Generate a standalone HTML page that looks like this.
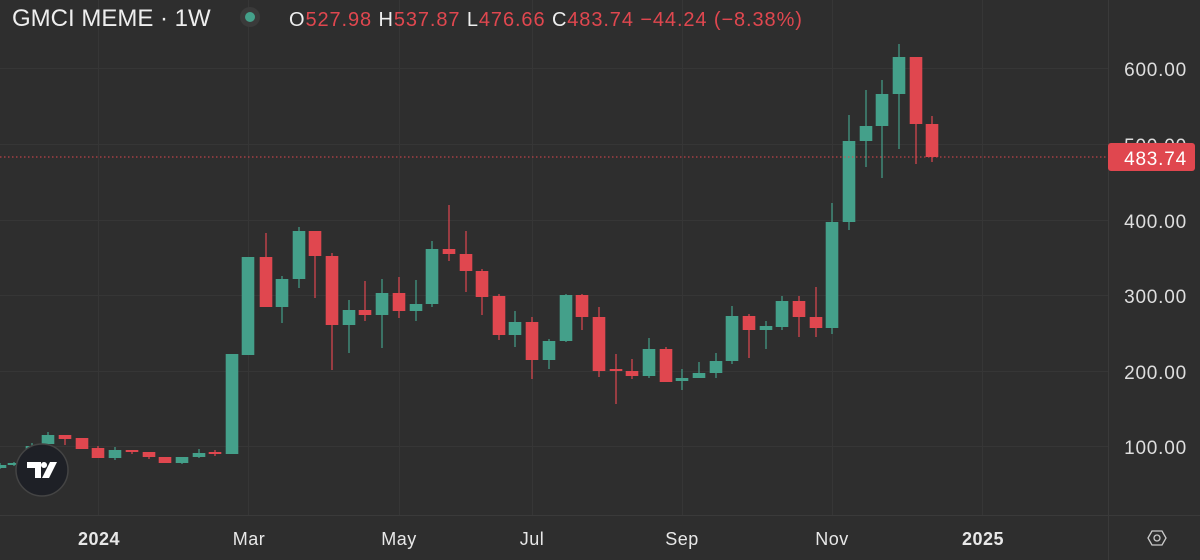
<!DOCTYPE html>
<html><head><meta charset="utf-8"><style>
html,body{margin:0;padding:0;background:#2e2e2e;}
svg{display:block;font-family:"Liberation Sans",sans-serif;}
</style></head><body>
<svg id="s" width="1200" height="560" viewBox="0 0 1200 560" xmlns="http://www.w3.org/2000/svg">
<rect width="1200" height="560" fill="#2e2e2e"/>
<g stroke="#363636" stroke-width="1">
<line x1="0" x2="1108" y1="68.5" y2="68.5"/><line x1="0" x2="1108" y1="144.5" y2="144.5"/>
<line x1="0" x2="1108" y1="220.5" y2="220.5"/><line x1="0" x2="1108" y1="295.5" y2="295.5"/>
<line x1="0" x2="1108" y1="371.5" y2="371.5"/><line x1="0" x2="1108" y1="446.5" y2="446.5"/>
<line x1="98.5" x2="98.5" y1="0" y2="515"/><line x1="248.5" x2="248.5" y1="0" y2="515"/>
<line x1="399.5" x2="399.5" y1="0" y2="515"/><line x1="532.5" x2="532.5" y1="0" y2="515"/>
<line x1="682.5" x2="682.5" y1="0" y2="515"/><line x1="832.5" x2="832.5" y1="0" y2="515"/>
<line x1="982.5" x2="982.5" y1="0" y2="515"/>
</g>
<line x1="0" x2="1200" y1="515.5" y2="515.5" stroke="#3a3a3a"/>
<line x1="1108.5" x2="1108.5" y1="0" y2="560" stroke="#3a3a3a"/>
<g id="c"></g>
<line x1="0" x2="1108" y1="157" y2="157" stroke="#e0474f" stroke-dasharray="1.5 2.5" stroke-width="1"/>
<g fill="#dedede" font-size="19" letter-spacing="0.8" text-anchor="end">
<text x="1187" y="76">600.00</text><text x="1187" y="152">500.00</text>
<text x="1187" y="228">400.00</text><text x="1187" y="303">300.00</text>
<text x="1187" y="379">200.00</text><text x="1187" y="454">100.00</text>
</g>
<rect x="1108" y="143" width="87" height="28" rx="3" fill="#e0474f"/>
<text x="1187" y="165" fill="#fff" font-size="19" letter-spacing="0.8" text-anchor="end">483.74</text>
<g fill="#e8e8e8" font-size="18" letter-spacing="0.5" text-anchor="middle">
<text x="99" y="545" font-weight="bold">2024</text><text x="249" y="545">Mar</text>
<text x="399" y="545">May</text><text x="532" y="545">Jul</text>
<text x="682" y="545">Sep</text><text x="832" y="545">Nov</text>
<text x="983" y="545" font-weight="bold">2025</text>
</g>
<polygon points="1148,538 1152,531 1162,531 1166,538 1162,545 1152,545" fill="none" stroke="#ccc" stroke-width="1.3"/>
<circle cx="1157" cy="538" r="3" fill="none" stroke="#ccc" stroke-width="1.3"/>
<text x="12" y="26" fill="#eee" font-size="24">GMCI MEME · 1W</text>
<circle cx="250" cy="17" r="10" fill="#3a3a3a"/><circle cx="250" cy="17" r="5" fill="#44a08a"/>
<text x="289" y="26" font-size="20" letter-spacing="0.9"><tspan fill="#eee">O</tspan><tspan fill="#e0474f">527.98 </tspan><tspan fill="#eee">H</tspan><tspan fill="#e0474f">537.87 </tspan><tspan fill="#eee">L</tspan><tspan fill="#e0474f">476.66 </tspan><tspan fill="#eee">C</tspan><tspan fill="#e0474f">483.74 </tspan><tspan fill="#e0474f">−44.24 (−8.38%)</tspan></text>
<circle cx="42" cy="470" r="26" fill="#1e2026" stroke="#444" stroke-width="1.5"/>
<path d="M27 462h14v16h-6v-10h-8z M44 462a3 3 0 1 0 0.01 0z M50 462h7l-8 16h-7z" fill="#fff"/>
</svg>
<script>
var G="#44a08a",R="#e0474f";
var d=[
[0,465,468,463,469,G],[14,463,465,462,466,G],[32,446,449,443,450,G],[48,435,444,432,445,G],[65,435,439,435,445,R],[82,438,449,438,449,R],
[98,448,458,446,458,R],[115,450,458,447,460,G],[132,450,452,450,454,R],[149,452,457,452,459,R],[165,457,463,457,463,R],[182,457,463,457,464,G],
[199,453,457,449,458,G],[215,452,454,450,456,R],[232,354,454,354,454,G],[248,257,355,257,355,G],[266,257,307,233,307,R],[282,279,307,276,323,G],
[299,231,279,227,288,G],[315,231,256,231,298,R],[332,256,325,253,370,R],[349,310,325,300,353,G],[365,310,315,281,321,R],[382,293,315,279,348,G],
[399,293,311,277,318,R],[416,304,311,280,321,G],[432,249,304,241,307,G],[449,249,254,205,261,R],[466,254,271,231,292,R],[482,271,297,269,315,R],
[499,296,335,294,340,R],[515,322,335,311,347,G],[532,322,360,317,379,R],[549,341,360,339,369,G],[566,295,341,294,342,G],[582,295,317,294,330,R],
[599,317,371,307,377,R],[616,369,371,354,404,R],[632,371,376,359,379,R],[649,349,376,338,378,G],[666,349,382,347,382,R],[682,378,381,369,390,G],
[699,373,378,362,378,G],[716,361,373,353,378,G],[732,316,361,306,364,G],[749,316,330,314,358,R],[766,326,330,321,349,G],[782,301,327,296,330,G],
[799,301,317,296,337,R],[816,317,328,287,337,R],[832,222,328,203,334,G],[849,141,222,115,230,G],[866,126,141,90,167,G],[882,94,126,80,178,G],
[899,57,94,44,149,G],[916,57,124,57,164,R],[932,124,157,116,162,R]];
var s="";d.forEach(function(a){var x=a[0];s+='<line x1="'+x+'" x2="'+x+'" y1="'+a[3]+'" y2="'+a[4]+'" stroke="'+a[5]+'" stroke-width="1.2"/>';
s+='<rect x="'+(x-6.3)+'" y="'+a[1]+'" width="12.6" height="'+Math.max(1.5,a[2]-a[1])+'" fill="'+a[5]+'"/>';});
document.getElementById("c").innerHTML=s;
</script>
</body></html>
